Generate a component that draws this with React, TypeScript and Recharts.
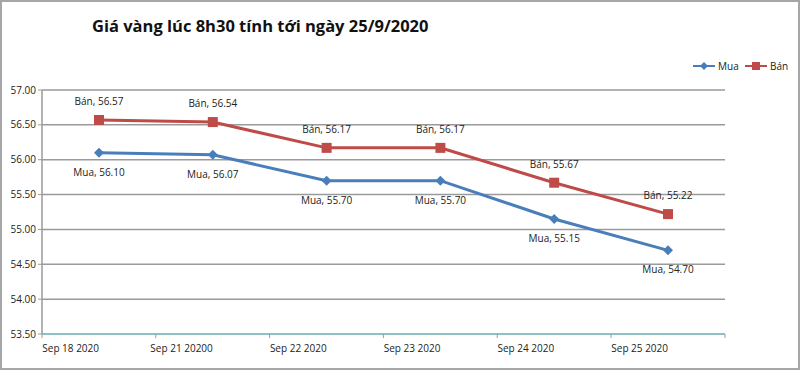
import { LineChart, Line, XAxis, YAxis, CartesianGrid, Legend, LabelList } from 'recharts'

const categories = ['Sep 18 2020', 'Sep 21 20200', 'Sep 22 2020', 'Sep 23 2020', 'Sep 24 2020', 'Sep 25 2020']
const muaValues = [56.1, 56.07, 55.7, 55.7, 55.15, 54.7]
const banValues = [56.57, 56.54, 56.17, 56.17, 55.67, 55.22]
const yTicks = [53.5, 54, 54.5, 55, 55.5, 56, 56.5, 57]

const BLUE = '#4a7ebb'
const RED = '#be4b48'
const FONT = '"Open Sans", "Liberation Sans", sans-serif'

const data = categories.map((name, i) => ({ name, mua: muaValues[i], ban: banValues[i] }))

function Diamond(props: any) {
  const { cx, cy } = props
  if (cx == null || cy == null) return null
  return <path d={`M${cx},${cy - 5} L${cx + 5},${cy} L${cx},${cy + 5} L${cx - 5},${cy} Z`} fill={BLUE} />
}

function Square(props: any) {
  const { cx, cy } = props
  if (cx == null || cy == null) return null
  return <rect x={cx - 5} y={cy - 5} width={10} height={10} fill={RED} />
}

function makeLabel(prefix: string, dy: number) {
  return (props: any) => {
    const { x, y, value } = props
    return (
      <text x={x} y={y + dy} textAnchor="middle" dominantBaseline="central" fontSize={10} fontFamily={FONT} fill="#222">
        {`${prefix}, ${Number(value).toFixed(2)}`}
      </text>
    )
  }
}

function XTick(props: any) {
  const { x, y, payload, index } = props
  const last = index === categories.length - 1
  return (
    <g>
      <line x1={x - 57} y1={y - 8} x2={x - 57} y2={y - 4} stroke="#9a9a9a" />
      {last && <line x1={x + 57} y1={y - 8} x2={x + 57} y2={y - 4} stroke="#9a9a9a" />}
      <text x={x} y={y + 10} textAnchor="end" fontSize={10} fontFamily={FONT} fill="#222">
        {payload.value}
      </text>
    </g>
  )
}

function LegendContent() {
  return (
    <svg width={110} height={16}>
      <line x1={0} y1={8} x2={22} y2={8} stroke={BLUE} strokeWidth={2} />
      <path d="M11,4 L15,8 L11,12 L7,8 Z" fill={BLUE} />
      <text x={25} y={12} fontSize={10} fontFamily={FONT} fill="#222">Mua</text>
      <line x1={52} y1={8} x2={74} y2={8} stroke={RED} strokeWidth={2} />
      <rect x={59} y={4} width={8} height={8} fill={RED} />
      <text x={77} y={12} fontSize={10} fontFamily={FONT} fill="#222">Bán</text>
    </svg>
  )
}

export default function App() {
  return (
    <div
      style={{
        position: 'absolute',
        top: 0,
        left: 0,
        width: 800,
        height: 370,
        background: '#fff',
      }}
    >
      <div
        style={{
          position: 'absolute',
          inset: 0,
          border: '2px solid #a6a6a6',
          boxSizing: 'border-box',
          pointerEvents: 'none',
        }}
      />
      <div
        style={{
          position: 'absolute',
          top: 14,
          left: 92,
          fontFamily: FONT,
          fontWeight: 700,
          fontSize: 16.5,
          color: '#111',
          whiteSpace: 'nowrap',
        }}
      >
        Giá vàng lúc 8h30 tính tới ngày 25/9/2020
      </div>
      <LineChart
        width={800}
        height={370}
        data={data}
        margin={{ top: 90, right: 75, left: 0, bottom: 0 }}
      >
        <CartesianGrid horizontal vertical={false} stroke="#9a9a9a" strokeWidth={1.5} />
        <XAxis
          dataKey="name"
          height={36}
          padding={{ left: 57, right: 57 }}
          axisLine={{ stroke: '#7fc6cc', strokeWidth: 1.5 }}
          tickLine={false}
          tick={<XTick />}
          interval={0}
        />
        <YAxis
          width={42}
          domain={[53.5, 57]}
          ticks={yTicks}
          tickFormatter={(v) => Number(v).toFixed(2)}
          axisLine={{ stroke: '#9a9a9a', strokeWidth: 1.5 }}
          tickLine={{ stroke: '#9a9a9a' }}
          tickSize={4}
          tick={{ fontSize: 10, fontFamily: FONT, fill: '#222' }}
        />
        <Legend
          layout="horizontal"
          verticalAlign="middle"
          align="center"
          content={<LegendContent />}
          wrapperStyle={{ top: 58, left: 693, width: 110 }}
        />
        <Line
          type="linear"
          dataKey="mua"
          name="Mua"
          stroke={BLUE}
          strokeWidth={3}
          dot={<Diamond />}
          activeDot={false}
          isAnimationActive={false}
        >
          <LabelList dataKey="mua" content={makeLabel('Mua', 19)} />
        </Line>
        <Line
          type="linear"
          dataKey="ban"
          name="Bán"
          stroke={RED}
          strokeWidth={3}
          dot={<Square />}
          activeDot={false}
          isAnimationActive={false}
        >
          <LabelList dataKey="ban" content={makeLabel('Bán', -19)} />
        </Line>
      </LineChart>
    </div>
  )
}
